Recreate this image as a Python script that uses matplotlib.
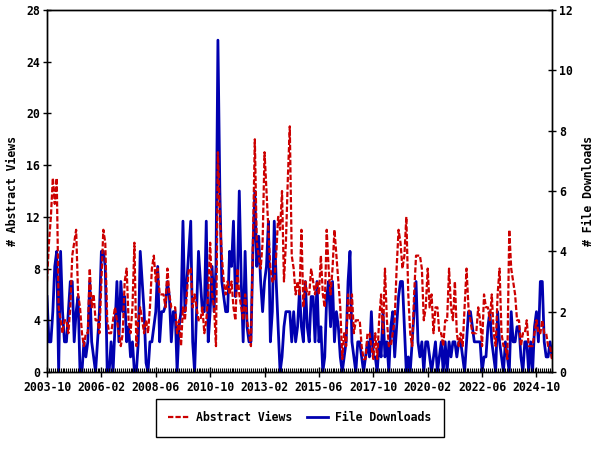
import numpy as np
import matplotlib
matplotlib.use('Agg')
import matplotlib.pyplot as plt

# monthly counts, 2003-10 .. 2025-06
views = [7, 10, 12, 15, 13, 15, 5, 4, 3, 4,
         4, 3, 5, 9, 10, 11, 6, 5, 3, 2,
         3, 3, 8, 5, 6, 4, 4, 3, 7, 11,
         10, 4, 3, 3, 4, 5, 4, 3, 2, 3,
         7, 8, 4, 3, 5, 10, 2, 4, 5, 4,
         3, 4, 3, 5, 8, 9, 7, 8, 6, 6,
         6, 5, 8, 6, 5, 5, 5, 3, 4, 2,
         5, 4, 6, 8, 8, 5, 6, 5, 4, 4,
         5, 3, 4, 6, 10, 6, 5, 2, 17, 12,
         9, 7, 6, 7, 6, 7, 5, 4, 8, 6,
         5, 4, 6, 4, 3, 2, 10, 18, 10, 9,
         8, 10, 17, 14, 11, 8, 7, 7, 9, 12,
         11, 14, 7, 10, 15, 19, 9, 8, 6, 7,
         6, 11, 5, 7, 6, 6, 8, 7, 6, 7,
         6, 9, 6, 5, 11, 8, 6, 8, 11, 9,
         7, 5, 1, 3, 2, 6, 4, 6, 3, 4,
         4, 4, 2, 1, 1, 3, 3, 2, 1, 3,
         1, 4, 6, 3, 8, 4, 2, 2, 3, 4,
         8, 11, 10, 8, 9, 12, 6, 3, 2, 6,
         9, 9, 9, 8, 4, 5, 8, 5, 6, 3,
         5, 5, 3, 3, 2, 4, 4, 8, 5, 4,
         7, 3, 2, 3, 2, 5, 8, 5, 4, 3,
         3, 3, 5, 4, 2, 6, 5, 5, 4, 6,
         3, 2, 6, 8, 3, 2, 2, 1, 11, 8,
         7, 6, 4, 4, 2, 3, 3, 4, 2, 2,
         2, 3, 4, 3, 3, 4, 3, 3, 2, 2, 1]

downloads = [2.5, 1, 1, 2, 3.5, 4, 0, 4, 2, 1,
             1, 2, 3, 3, 1, 2, 2.5, 0, 0, 1,
             0.5, 1, 3, 1, 0.5, 0, 1, 2, 4, 4,
             3.5, 0, 0, 1, 0, 1.5, 3, 1, 3, 2,
             2.5, 1, 1.5, 0.5, 1, 0, 0, 1, 4, 3,
             2, 0.3, 0, 1, 1, 1.5, 2, 3.5, 1, 2,
             2, 2.2, 3, 2.5, 1, 2, 2, 0, 1.5, 2,
             5, 2, 3, 4, 5, 1, 0, 2, 4, 3,
             2, 2, 5, 1, 2, 3.5, 2, 3.5, 11, 6,
             3, 2.5, 2, 2, 4, 3.5, 5, 2.5, 3, 6,
             3, 1, 4, 1.5, 1, 1, 4, 6, 3.5, 4.5,
             3, 2, 3, 3.5, 5, 1, 2, 5, 3, 1.5,
             0, 0.5, 1.5, 2, 2, 2, 1, 2, 1, 1.5,
             2.7, 1.5, 1, 3, 1.5, 1, 2.5, 2.5, 1, 3,
             1, 1.5, 0, 0.5, 2.5, 3, 1.5, 3, 1, 2,
             1.5, 0.5, 0, 0.5, 1, 3, 4, 1, 0.5, 0,
             1, 1, 0.5, 0, 0.5, 1, 0.5, 2, 0.5, 0.5,
             0, 1, 0.5, 2, 0.5, 1, 0, 1.5, 2, 0.5,
             1.5, 2.5, 3, 3, 1.5, 0, 0.5, 0, 1, 2,
             3, 1, 0.5, 1, 0, 1, 1, 0.5, 0, 0.5,
             1, 0, 0.5, 1, 0, 1, 0, 1, 0.5, 1,
             1, 0.5, 1, 1, 0.5, 0, 1, 2, 2, 1.5,
             1, 1, 1, 1, 0, 0.5, 0.5, 1.5, 2, 1,
             0.5, 0, 2, 1, 0.5, 0, 1, 0.5, 0, 2,
             1, 1, 1.5, 1.5, 0.5, 0, 1, 1, 0, 1,
             0, 1.5, 2, 1, 3, 3, 1, 0.5, 0.5, 1, 0.5]

tick_labels = ['2003-10', '2006-02', '2008-06', '2010-10', '2013-02',
               '2015-06', '2017-10', '2020-02', '2022-06', '2024-10']

plt.rcParams['font.family'] = 'DejaVu Sans Mono'
plt.rcParams['font.weight'] = 'bold'
plt.rcParams['axes.labelweight'] = 'bold'
plt.rcParams['font.size'] = 8.3

red = '#cc0000'
blue = '#0000b0'

x = np.arange(len(views))

fig = plt.figure(figsize=(6, 4.5), dpi=100)
ax = fig.add_axes([47/600, 78/450, 505/600, 362/450])
ax2 = ax.twinx()

l1, = ax.plot(x, views, color=red, lw=1.6, ls=(0, (2.4, 0.95)), label='Abstract Views')
l2, = ax2.plot(x, downloads, color=blue, lw=2.0, label='File Downloads')
ax.set_zorder(ax2.get_zorder() + 1)
ax.patch.set_visible(False)

ax.set_xlim(0, len(views) - 1)
ax.set_xticks(np.arange(0, 28 * len(tick_labels), 28))
ax.set_xticklabels(tick_labels)
ax.set_xticks(x, minor=True)
ax.tick_params(axis='x', which='major', direction='inout', length=7, width=1, pad=3)
ax.tick_params(axis='x', which='minor', direction='in', length=3, width=0.8)

ax.set_ylim(0, 28)
ax.set_yticks(np.arange(0, 29, 4))
ax.tick_params(axis='y', direction='inout', length=6, width=1, pad=2)
ax2.set_ylim(0, 12)
ax2.set_yticks(np.arange(0, 13, 2))
ax2.tick_params(axis='y', direction='inout', length=6, width=1, pad=2)

for a in (ax, ax2):
    for s in a.spines.values():
        s.set_linewidth(1.0)

ax.set_ylabel('# Abstract Views', labelpad=5)
ax2.set_ylabel('# File Downloads', labelpad=7)

leg = fig.legend([l1, l2], ['Abstract Views', 'File Downloads'], loc='center',
                 bbox_to_anchor=(0.4997, 0.0718), ncol=2, frameon=True,
                 fancybox=False, edgecolor='black', framealpha=1,
                 borderpad=1.1, handlelength=1.8, handletextpad=0.6,
                 columnspacing=1.3)
leg.get_frame().set_linewidth(1.0)

fig.savefig('out.png', dpi=100)
